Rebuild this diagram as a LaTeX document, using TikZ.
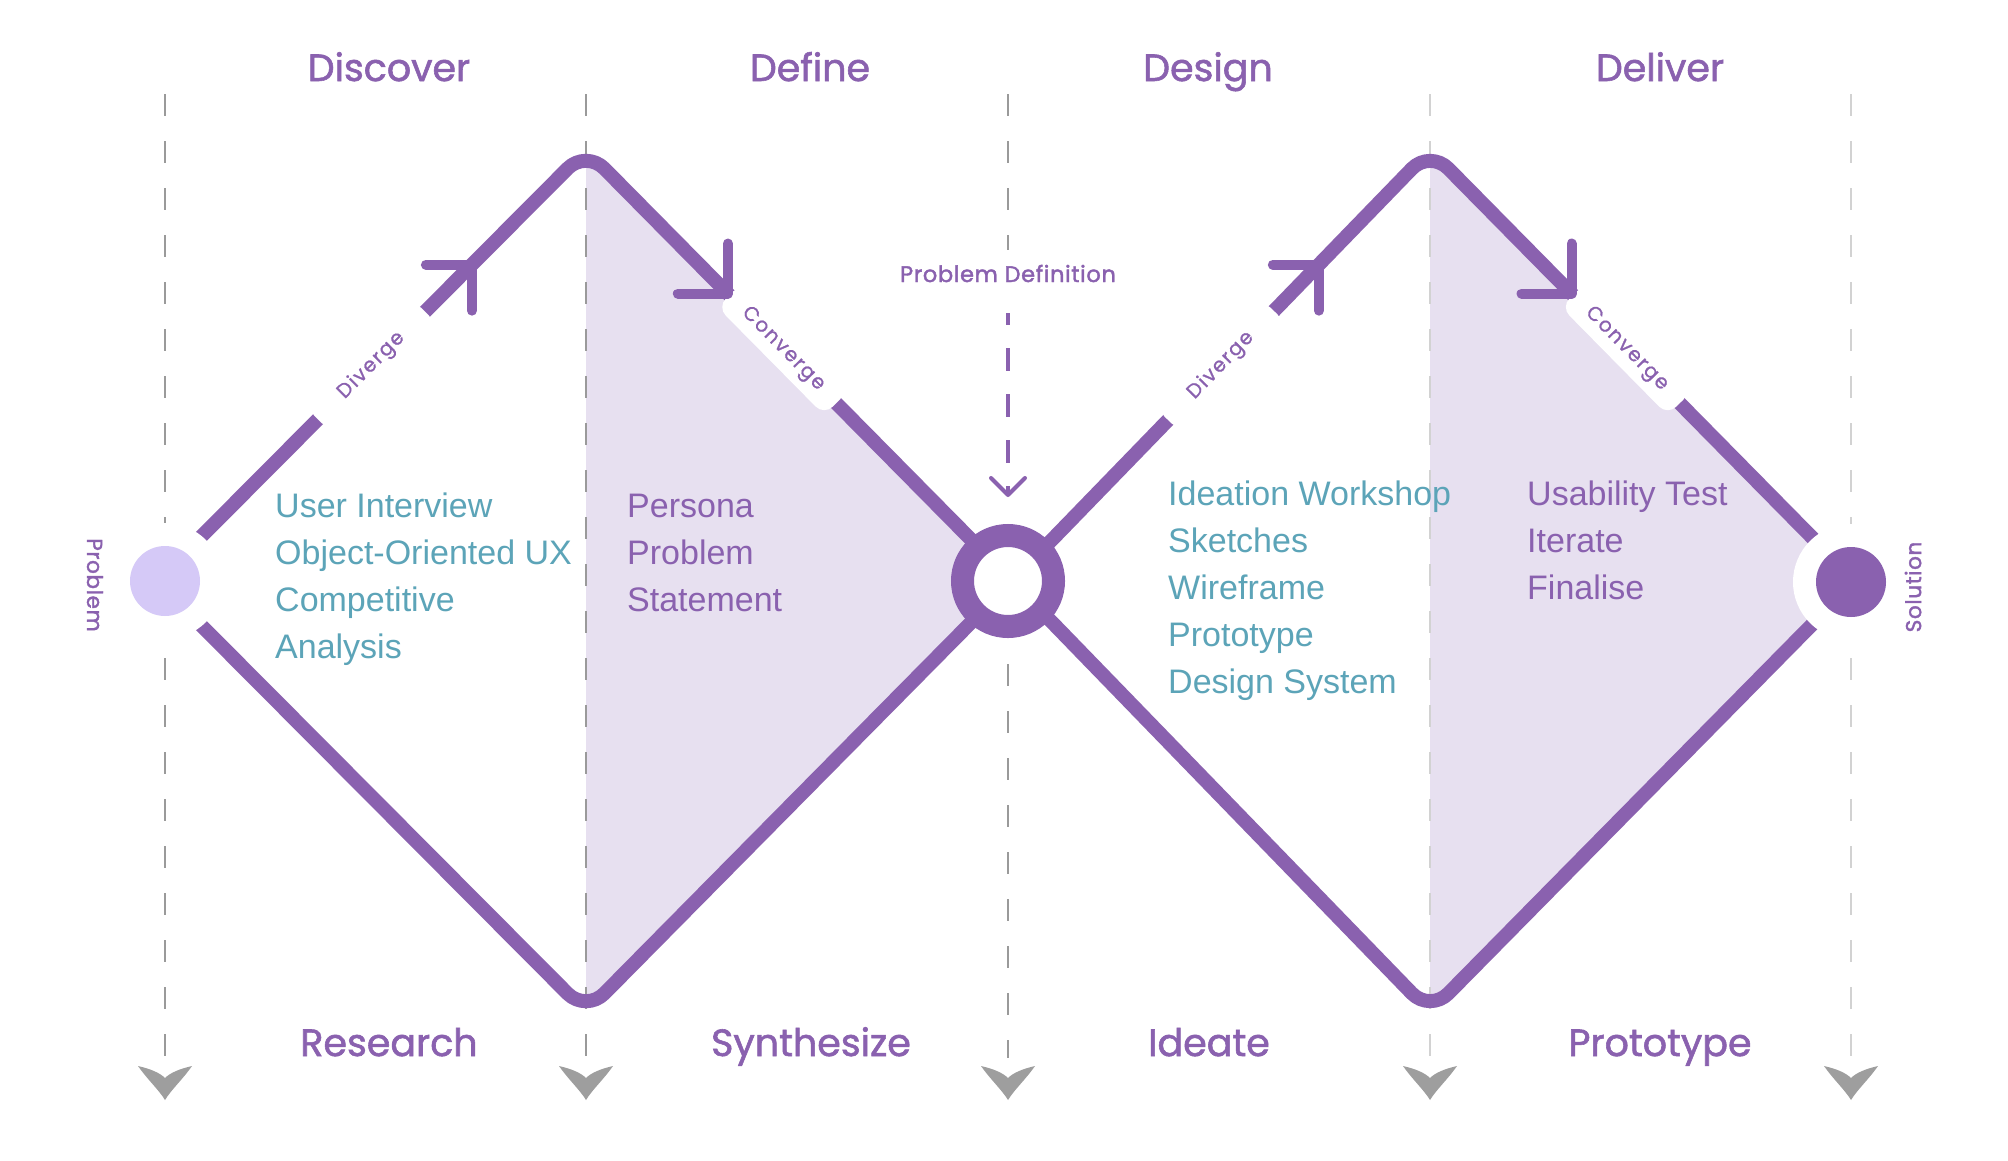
\documentclass[tikz,border=0pt]{standalone}
\usepackage{fontspec}
\setmainfont{Liberation Sans}
\newfontfamily\titlefont[FakeBold=1.5]{Poppins}
\newfontfamily\pdfont[FakeBold=1.8,LetterSpace=3]{Poppins}
\newfontfamily\tagfont[FakeBold=1.0,LetterSpace=8]{Poppins}
\definecolor{dp}{HTML}{8A61AF}
\definecolor{lav}{HTML}{E7E0F0}
\definecolor{plight}{HTML}{D5C9F7}
\definecolor{tealtxt}{HTML}{5CA4B8}
\definecolor{gd}{HTML}{9A9A9A}
\definecolor{gl}{HTML}{D2D2D2}
\definecolor{garrow}{HTML}{9E9E9E}
\begin{document}
\begin{tikzpicture}[x=1pt,y=-1pt,
  dline/.style={draw=dp, line width=14pt, line join=round, rounded corners=26pt},
  gdash/.style={line width=2.5pt, dash pattern=on 22pt off 25pt},
  lbl/.style={fill=white, rounded corners=12pt, minimum width=152pt, minimum height=34pt,
    inner sep=0pt, text=dp, font=\tagfont\fontsize{20}{20}\selectfont, sloped},
  arr/.style={draw=dp, line width=10pt, line cap=round, line join=round},
  title/.style={text=dp, font=\titlefont\fontsize{38}{38}\selectfont, anchor=base, inner sep=0pt},
  tlist/.style={text=tealtxt, font=\fontsize{34}{34}\selectfont, anchor=base west, inner sep=0pt},
  plist/.style={text=dp, font=\fontsize{34}{34}\selectfont, anchor=base west, inner sep=0pt},
  vtext/.style={text=dp, font=\pdfont\fontsize{21.5}{21.5}\selectfont, inner sep=0pt},
  pdtext/.style={text=dp, font=\pdfont\fontsize{22.5}{22.5}\selectfont, anchor=base, inner sep=0pt}
]
\useasboundingbox (0,0) rectangle (2008,1160);
\fill[white] (0,0) rectangle (2008,1160);

% key points of the double diamond
\coordinate (L1) at (157,581);
\coordinate (T1) at (586,150);
\coordinate (B1) at (586,1012);
\coordinate (R1) at (1012,581);
\coordinate (T2) at (1430,150);
\coordinate (B2) at (1430,1012);
\coordinate (R2) at (1855,581);

% shaded halves
\fill[lav] (586,160) -- (R1) -- (586,1002) -- cycle;
\fill[lav] (1430,160) -- (R2) -- (1430,1002) -- cycle;

% grey dashed guides
\foreach \x in {165,586} \draw[gdash, draw=gd] (\x,94) -- (\x,1058);
\draw[gdash, draw=gd] (1008,94) -- (1008,250);
\draw[gdash, draw=gd] (1008,664) -- (1008,1058);
\foreach \x in {1430,1851} \draw[gdash, draw=gl] (\x,94) -- (\x,1058);

% diamond outlines
\draw[dline] (L1) -- (T1) -- (R1) -- (T2) -- (R2);
\draw[dline] (L1) -- (B1) -- (R1) -- (B2) -- (R2);

% line labels
\path (L1) -- (T1) node[lbl, pos=0.5] (dv1) {Diverge};
\path (T1) -- (R1) node[lbl, pos=0.462] (cv1) {Converge};
\path (R1) -- (T2) node[lbl, pos=0.5] (dv2) {Diverge};
\path (T2) -- (R2) node[lbl, pos=0.462] (cv2) {Converge};

% arrow heads on the lines
\path (L1) -- (T1) coordinate[pos=0.734] (a1);
\path (T1) -- (R1) coordinate[pos=0.333] (a2);
\path (R1) -- (T2) coordinate[pos=0.734] (a3);
\path (T2) -- (R2) coordinate[pos=0.333] (a4);
\draw[arr] ([shift={(-46,0)}]a1) -- (a1) -- ([shift={(0,46)}]a1);
\draw[arr] ([shift={(-50,0)}]a2) -- (a2) -- ([shift={(0,-50)}]a2);
\draw[arr] ([shift={(-46,0)}]a3) -- (a3) -- ([shift={(0,46)}]a3);
\draw[arr] ([shift={(-50,0)}]a4) -- (a4) -- ([shift={(0,-50)}]a4);

% problem / solution circles and the centre ring
\coordinate (P) at (165,581);
\coordinate (S) at (1851,582);
\fill[white] (P) circle[radius=58pt];
\fill[white] (S) circle[radius=58pt];
\node[circle, fill=plight, minimum size=70pt, inner sep=0pt] (prob) at (P) {};
\node[circle, fill=dp, minimum size=70pt, inner sep=0pt] (sol) at (S) {};
\node[circle, draw=dp, line width=23pt, fill=white, minimum size=91pt, inner sep=0pt] (ring) at (1008,581) {};

\node[vtext, rotate=-90] (problbl) at (95,585) {Problem};
\node[vtext, rotate=90] (sollbl) at (1913,587) {Solution};

% problem definition arrow
\node[pdtext] (pdef) at (1008,282) {Problem Definition};
\coordinate (pd1) at (1008,313);
\coordinate (pd2) at (1008,495);
\draw[dp, line width=4pt, dash pattern=on 23pt off 23pt, dash phase=11pt] (pd1) -- (pd2);
\draw[dp, line width=4pt, line cap=round, line join=round] ([shift={(-17,-17)}]pd2) -- (pd2) -- ([shift={(17,-17)}]pd2);

% phase titles
\node[title] (t1) at (389,81) {Discover};
\node[title] (t2) at (810,81) {Define};
\node[title] (t3) at (1208,81) {Design};
\node[title] (t4) at (1660,81) {Deliver};
\node[title] (b1) at (389,1056) {Research};
\node[title] (b2) at (811,1056) {Synthesize};
\node[title] (b3) at (1209,1056) {Ideate};
\node[title] (b4) at (1660,1056) {Prototype};

% activity lists
\foreach \t [count=\i] in {User Interview, Object-Oriented UX, Competitive, Analysis}
  \node[tlist] (dl\i) at (275,{470+47*\i}) {\t};
\foreach \t [count=\i] in {Persona, Problem, Statement}
  \node[plist] (fl\i) at (627,{470+47*\i}) {\t};
\foreach \t [count=\i] in {Ideation Workshop, Sketches, Wireframe, Prototype, Design System}
  \node[tlist] (gl\i) at (1168,{458+47*\i}) {\t};
\foreach \t [count=\i] in {Usability Test, Iterate, Finalise}
  \node[plist] (vl\i) at (1527,{458+47*\i}) {\t};

% grey arrow heads at the bottom
\foreach \x in {165,586,1008,1430,1851}
  \fill[garrow] (\x-27,1066) .. controls (\x-18,1079) and (\x-6,1090) .. (\x,1100)
    .. controls (\x+6,1090) and (\x+18,1079) .. (\x+27,1066)
    .. controls (\x+14,1069) and (\x+5,1073) .. (\x,1078)
    .. controls (\x-5,1073) and (\x-14,1069) .. (\x-27,1066) -- cycle;
\end{tikzpicture}
\end{document}
